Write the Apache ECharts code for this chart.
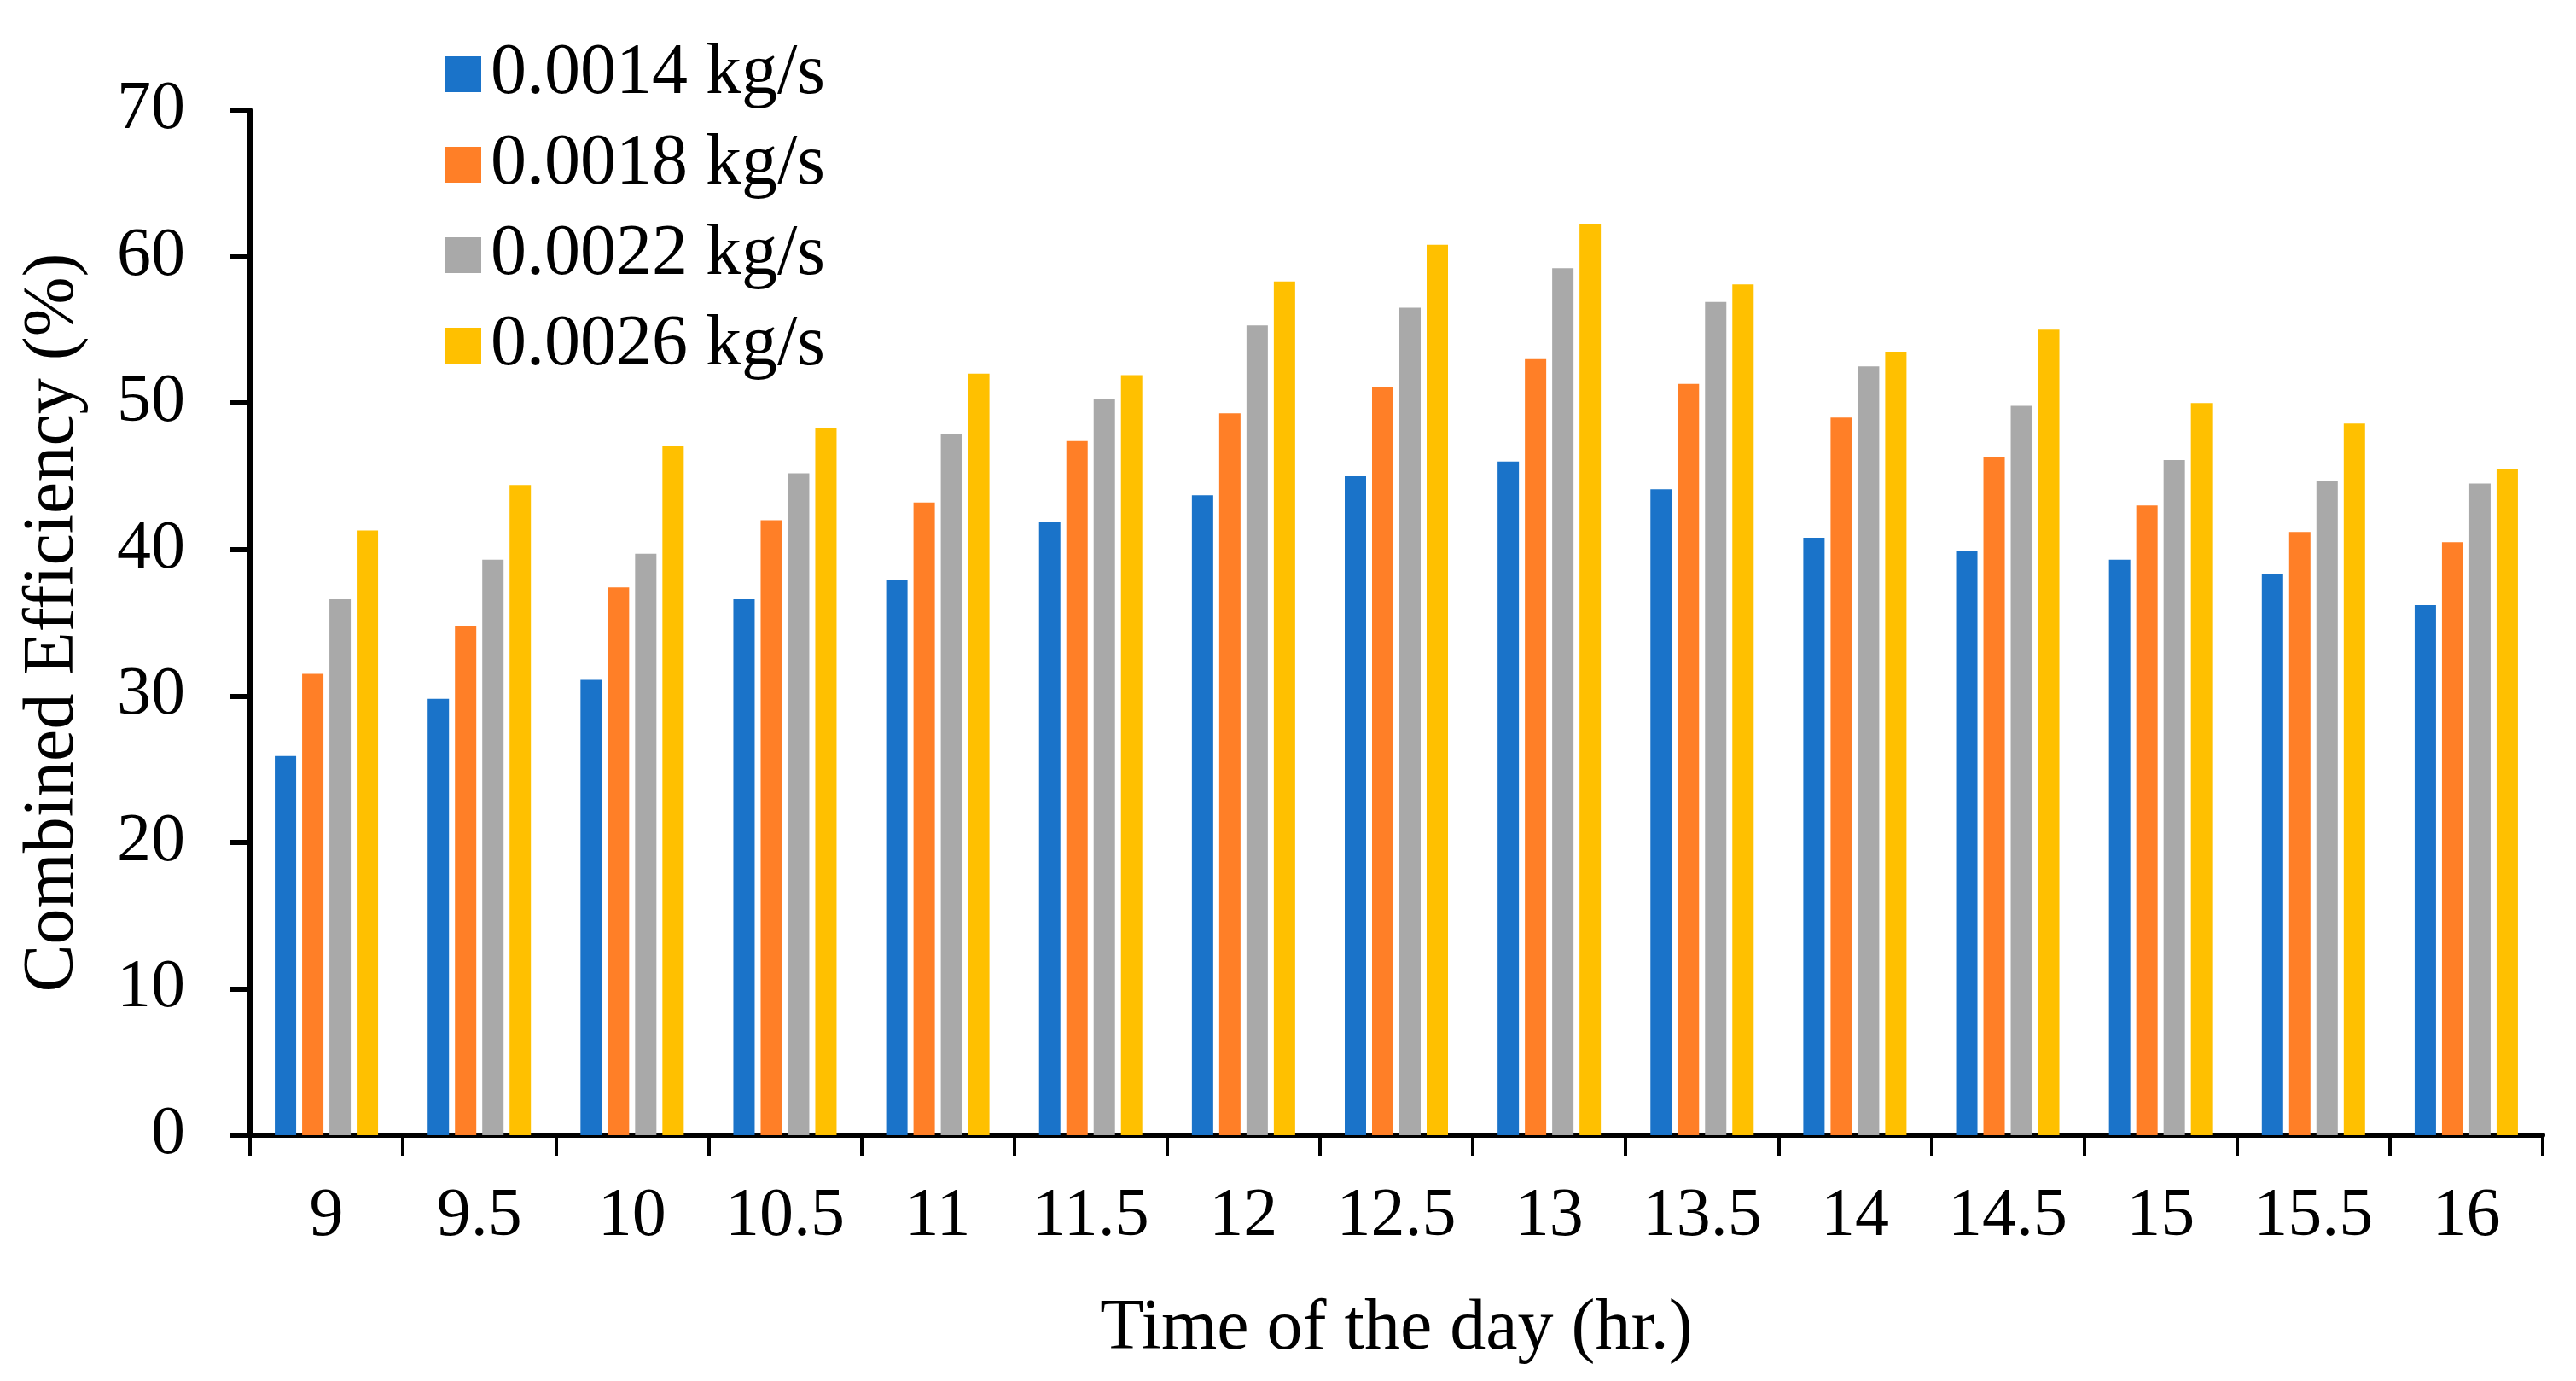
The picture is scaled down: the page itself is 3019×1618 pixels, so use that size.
<!DOCTYPE html>
<html>
<head>
<meta charset="utf-8">
<script src="https://cdn.jsdelivr.net/npm/echarts@6/dist/echarts.min.js"></script>
<style>html,body{margin:0;padding:0;background:#fff;}#c{width:3019px;height:1618px;}</style>
</head>
<body>
<div id="c"></div>
<script>
var categories = ['9','9.5','10','10.5','11','11.5','12','12.5','13','13.5','14','14.5','15','15.5','16'];
var seriesNames = ['0.0014 kg/s','0.0018 kg/s','0.0022 kg/s','0.0026 kg/s'];
var s0014 = [25.9, 29.8, 31.1, 36.6, 37.9, 41.9, 43.7, 45.0, 46.0, 44.1, 40.8, 39.9, 39.3, 38.3, 36.2];
var s0018 = [31.5, 34.8, 37.4, 42.0, 43.2, 47.4, 49.3, 51.1, 53.0, 51.3, 49.0, 46.3, 43.0, 41.2, 40.5];
var s0022 = [36.6, 39.3, 39.7, 45.2, 47.9, 50.3, 55.3, 56.5, 59.2, 56.9, 52.5, 49.8, 46.1, 44.7, 44.5];
var s0026 = [41.3, 44.4, 47.1, 48.3, 52.0, 51.9, 58.3, 60.8, 62.2, 58.1, 53.5, 55.0, 50.0, 48.6, 45.5];
var yTicks = {min: 0, max: 70, interval: 10};
var colors = ['#1A73C9', '#FF7F27', '#A9A9A9', '#FFC000'];

var font = 'Liberation Serif, Times New Roman, serif';
var allData = [s0014, s0018, s0022, s0026];
var chart = echarts.init(document.getElementById('c'));
chart.setOption({
  animation: false,
  backgroundColor: '#fff',
  textStyle: {fontFamily: font, color: '#000'},
  legend: {
    orient: 'vertical', left: 517, top: 40,
    itemWidth: 42, itemHeight: 42, itemGap: 22,
    icon: 'rect',
    textStyle: {fontFamily: font, fontSize: 84, color: '#000', padding: [0,0,0,6]},
    data: seriesNames
  },
  grid: {left: 293, right: 39, top: 129, bottom: 288, containLabel: false},
  xAxis: {
    type: 'category', data: categories,
    name: 'Time of the day (hr.)', nameLocation: 'middle', nameGap: 186,
    nameTextStyle: {fontFamily: font, fontSize: 84, color: '#000'},
    axisLine: {lineStyle: {color: '#000', width: 6}},
    axisTick: {show: true, inside: false, length: 24, interval: 0, lineStyle: {color: '#000', width: 4}},
    axisLabel: {fontFamily: font, fontSize: 80, color: '#000', margin: 56, interval: 0, hideOverlap: false},
    splitLine: {show: false}
  },
  yAxis: {
    type: 'value', min: yTicks.min, max: yTicks.max, interval: yTicks.interval,
    name: 'Combined Efficiency (%)', nameLocation: 'middle', nameGap: 188,
    nameTextStyle: {fontFamily: font, fontSize: 84, color: '#000'},
    axisLine: {show: true, lineStyle: {color: '#000', width: 6}},
    axisTick: {show: true, inside: false, length: 24, lineStyle: {color: '#000', width: 6}},
    axisLabel: {fontFamily: font, fontSize: 80, color: '#000', margin: 76},
    splitLine: {show: false}
  },
  series: seriesNames.map(function (n, i) {
    return {
      name: n, type: 'bar', data: allData[i],
      barWidth: 25, barGap: '28%',
      itemStyle: {color: colors[i]}
    };
  })
});
</script>
</body>
</html>
